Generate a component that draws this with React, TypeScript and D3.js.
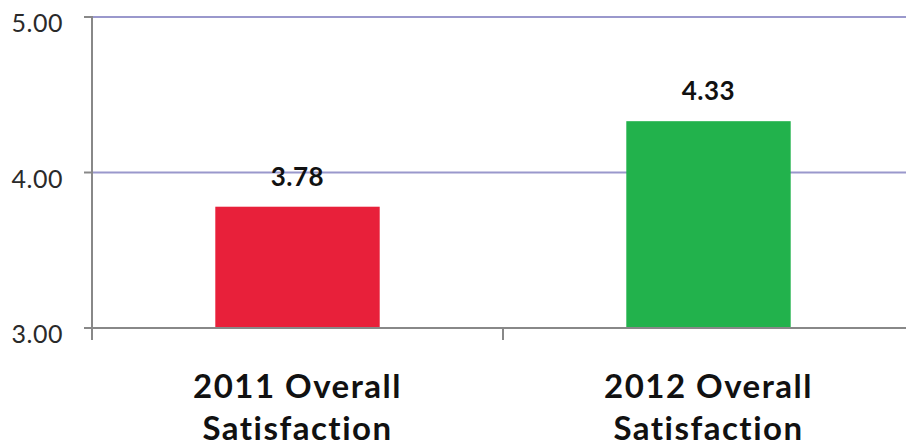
import React from "react";
import * as d3 from "d3";

const categories = ["2011 Overall Satisfaction", "2012 Overall Satisfaction"];
const categoryLines = [["2011 Overall", "Satisfaction"], ["2012 Overall", "Satisfaction"]];
const values = [3.78, 4.33];
const valueLabels = ["3.78", "4.33"];
const barColors = ["#e8203a", "#22b24c"];
const yTicks = [3, 4, 5];

const W = 906;
const H = 448;

export default function App() {
  const x = d3
    .scaleBand<string>()
    .domain(categories)
    .range([92, 914])
    .paddingInner(0.6)
    .paddingOuter(0.3);
  const y = d3.scaleLinear().domain([3, 5]).range([328, 17]);
  const step = x.step();
  const left = 92;
  const font = "Lato, 'Open Sans', sans-serif";

  return (
    <svg
      width={W}
      height={H}
      style={{ position: "absolute", left: 0, top: 0, background: "#fff" }}
    >
      {/* gridlines */}
      {yTicks
        .filter((t) => t > 3)
        .map((t) => (
          <line
            key={"g" + t}
            x1={left}
            x2={W}
            y1={y(t)}
            y2={y(t)}
            stroke="#9a98cc"
            strokeWidth={2}
          />
        ))}
      {/* y ticks */}
      {yTicks.map((t) => (
        <g key={"t" + t}>
          <line x1={84} x2={left} y1={y(t)} y2={y(t)} stroke="#888" strokeWidth={2} />
          <text
            x={63}
            y={y(t) + 15}
            textAnchor="end"
            fontFamily={font}
            fontSize={25}
            letterSpacing={0.5}
            fill="#2a2a2a"
          >
            {t.toFixed(2)}
          </text>
        </g>
      ))}
      {/* bars */}
      {categories.map((c, i) => (
        <rect
          key={c}
          x={x(c)}
          y={y(values[i])}
          width={x.bandwidth()}
          height={y(3) - y(values[i])}
          fill={barColors[i]}
        />
      ))}
      {/* value labels */}
      {categories.map((c, i) => (
        <text
          key={"v" + c}
          x={(x(c) as number) + x.bandwidth() / 2}
          y={y(values[i]) - 21}
          textAnchor="middle"
          fontFamily={font}
          fontWeight="bold"
          fontSize={26}
          letterSpacing={0.5}
          fill="#111"
        >
          {valueLabels[i]}
        </text>
      ))}
      {/* axes */}
      <line x1={left} x2={left} y1={y(5) - 1} y2={340} stroke="#888" strokeWidth={2} />
      <line x1={left} x2={W} y1={y(3)} y2={y(3)} stroke="#888" strokeWidth={2} />
      {categories.map((c, i) =>
        i > 0 ? (
          <line
            key={"xt" + c}
            x1={left + step * i}
            x2={left + step * i}
            y1={y(3)}
            y2={340}
            stroke="#888"
            strokeWidth={2}
          />
        ) : null
      )}
      {/* category labels */}
      {categories.map((c, i) => (
        <text
          key={"c" + c}
          x={(x(c) as number) + x.bandwidth() / 2}
          y={398}
          textAnchor="middle"
          fontFamily={font}
          fontWeight="bold"
          fontSize={33}
          letterSpacing={1.5}
          fill="#111"
        >
          {categoryLines[i].map((ln, j) => (
            <tspan key={j} x={(x(c) as number) + x.bandwidth() / 2} dy={j === 0 ? 0 : 42}>
              {ln}
            </tspan>
          ))}
        </text>
      ))}
    </svg>
  );
}
